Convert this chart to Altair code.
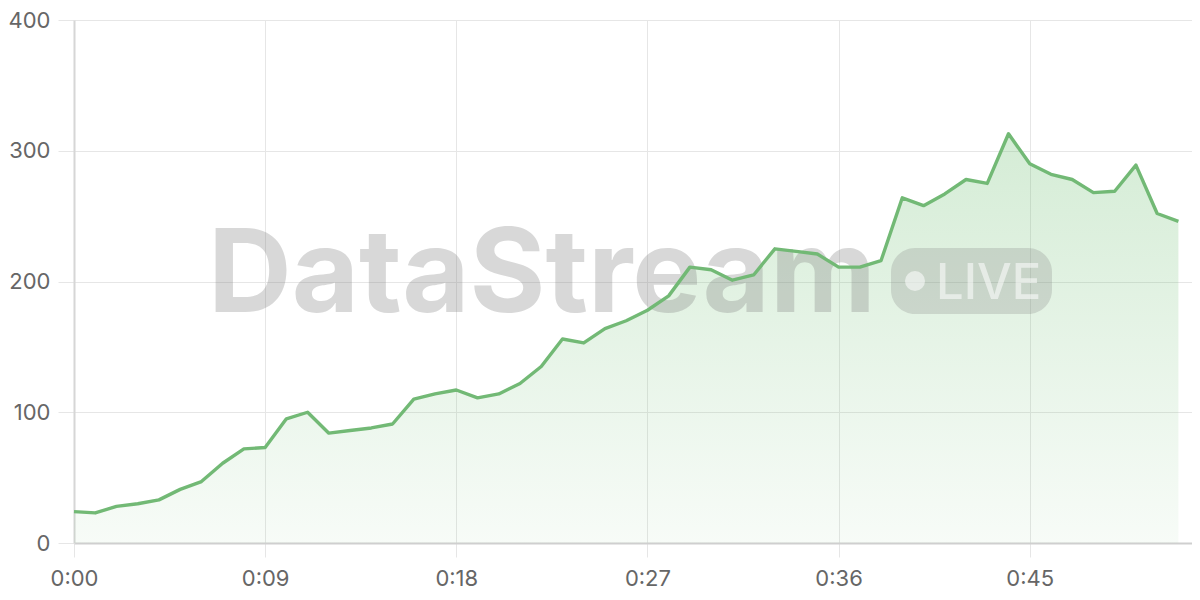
import altair as alt
import pandas as pd

# ---- data ----
seconds = list(range(53))
values = [24, 23, 28, 30, 33, 41, 47, 61, 72, 73,
          95, 100, 84, 86, 88, 91, 110, 114, 117, 111,
          114, 122, 135, 156, 153, 164, 170, 178, 189, 211,
          209, 201, 205, 225, 223, 221, 211, 211, 216, 264,
          258, 267, 278, 275, 313, 290, 282, 278, 268, 269,
          289, 252, 246]
x_ticks = [0, 9, 18, 27, 36, 45]
y_ticks = [0, 100, 200, 300, 400]
watermark_text = ["DataStream"]
badge_text = ["LIVE"]

df = pd.DataFrame({"t": seconds, "v": values})

LINE = "#72b975"
FONT = "Inter"

x_enc = alt.X(
    "t:Q",
    scale=alt.Scale(domain=[0, 52.64], nice=False, zero=False),
    axis=alt.Axis(
        values=x_ticks,
        labelExpr="floor(datum.value/60) + ':' + (datum.value % 60 < 10 ? '0' : '') + (datum.value % 60)",
        title=None,
        grid=True,
        gridColor="#e6e6e6",
        gridWidth=1,
        domainColor="#cfcfcf",
        domainWidth=2,
        tickColor="#e6e6e6",
        tickSize=14,
        labelPadding=11,
        labelFontSize=22,
        labelColor="#666666",
        labelFont=FONT,
        labelFlush=False,
        labelOverlap=False,
    ),
)
y_enc = alt.Y(
    "v:Q",
    scale=alt.Scale(domain=[0, 400], nice=False),
    axis=alt.Axis(
        values=y_ticks,
        title=None,
        grid=True,
        gridColor="#e6e6e6",
        gridWidth=1,
        domainColor="#d6d6d6",
        domainWidth=2,
        tickColor="#e6e6e6",
        tickSize=16,
        labelPadding=8,
        labelFontSize=22,
        labelColor="#666666",
        labelFont=FONT,
        labelFlush=False,
        labelOverlap=False,
    ),
)

base = alt.Chart(df)

area = base.mark_area(
    fill=alt.Gradient(
        gradient="linear",
        stops=[
            alt.GradientStop(color="rgba(102,187,106,0.28)", offset=0),
            alt.GradientStop(color="rgba(102,187,106,0.05)", offset=1),
        ],
        x1=1, x2=1, y1=0, y2=1,
    ),
    stroke=None,
).encode(x=x_enc, y=y_enc)

one = pd.DataFrame({"w": watermark_text, "b": badge_text})

watermark = alt.Chart(one).mark_text(
    align="left", baseline="alphabetic", font="Inter", fontWeight="bold",
    fontSize=116, color="#808080", opacity=0.3,
).encode(x=alt.value(134), y=alt.value(292), text="w:N")

badge = alt.Chart(one).mark_rect(
    color="#808080", opacity=0.25, cornerRadius=24,
).encode(x=alt.value(817), x2=alt.value(978), y=alt.value(228), y2=alt.value(294))

badge_dot = alt.Chart(one).mark_point(
    shape="circle", filled=True, color="#ffffff", opacity=0.55, size=400,
).encode(x=alt.value(841), y=alt.value(261))

badge_label = alt.Chart(one).mark_text(
    align="left", baseline="alphabetic", font="Inter", fontWeight=500,
    fontSize=49, color="#ffffff", opacity=0.55,
).encode(x=alt.value(862), y=alt.value(279), text="b:N")

line = base.mark_line(color=LINE, strokeWidth=3.4, strokeJoin="round").encode(x=x_enc, y=y_enc)

chart = alt.layer(area, watermark, badge, badge_dot, badge_label, line).properties(
    width=1118,
    height=523,
    padding={"left": 66, "top": 12, "right": 0, "bottom": 48},
    autosize=alt.AutoSizeParams(type="none"),
    background="#ffffff",
).configure_view(stroke=None)

chart.save("out.html", embed_options={"renderer": "svg", "actions": False})
